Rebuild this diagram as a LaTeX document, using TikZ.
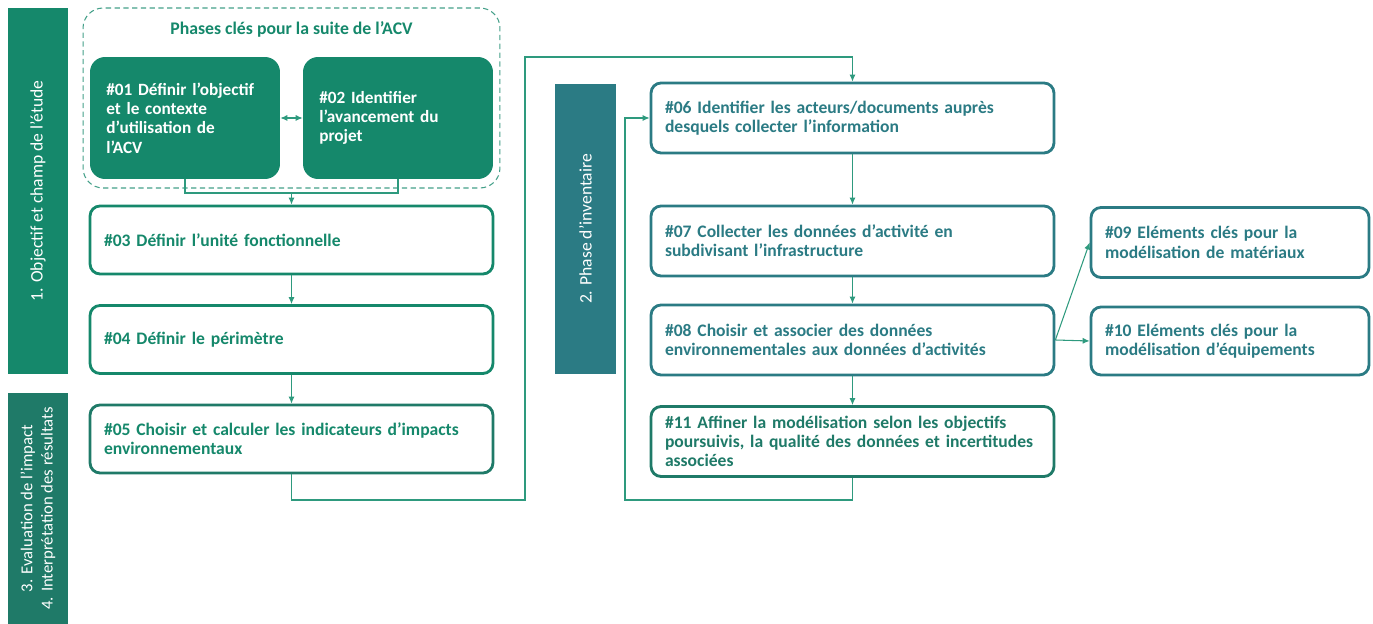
\documentclass[tikz,border=0pt]{standalone}
\usepackage{fontspec}
\setmainfont{Carlito}
\usetikzlibrary{arrows.meta}
\definecolor{vertacv}{HTML}{15886B}
\definecolor{vertfonce}{HTML}{1F7A68}
\definecolor{bleuacv}{HTML}{2B7B84}
\definecolor{lienvert}{HTML}{2E9A7E}
\begin{document}
\begin{tikzpicture}[x=0.02cm,y=-0.02cm,
  phasebar/.style={rotate=90, text=white, inner sep=0pt, align=center,
    minimum height=1.2cm, font=\fontsize{10}{11.5}\selectfont},
  clebox/.style={fill=vertacv, rounded corners=0.3cm, text=white, align=left,
    inner xsep=0.325cm, text width=3.15cm, minimum height=2.44cm,
    font=\bfseries\fontsize{9.8}{11}\selectfont},
  etapebox/.style={draw=vertacv, line width=1.6pt, rounded corners=0.2cm, fill=white,
    text=vertacv, align=left, inner xsep=0.28cm, text width=7.5cm,
    minimum height=1.36cm, font=\bfseries\fontsize{10}{11}\selectfont},
  inventbox/.style={etapebox, draw=bleuacv, text=bleuacv, minimum height=1.4cm},
  lien/.style={draw=lienvert, line width=0.6pt},
  >={Latex[length=4pt,width=3.5pt]}
]
\useasboundingbox (0,0) rectangle (1373,624);

% bandeaux des phases
\node[phasebar, fill=vertacv, minimum width=7.32cm] (phase1) at (38,191) {1. Objectif et champ de l'étude};
\node[phasebar, fill=vertfonce, minimum width=4.62cm, font=\fontsize{9.5}{11.5}\selectfont] (phase34) at (38,508.5) {3. Evaluation de l'impact\\4. Interprétation des résultats};
\node[phasebar, fill=bleuacv, minimum width=5.8cm, minimum height=1.22cm] (phase2) at (585.5,229) {2. Phase d'inventaire};

% phases clés
\node[draw=vertacv!80, line width=0.6pt, dash pattern=on 3pt off 2pt, rounded corners=0.4cm,
  minimum width=8.34cm, minimum height=3.6cm] (cles) at (291.5,98) {};
\node[text=vertacv, font=\bfseries\fontsize{10.1}{12}\selectfont] (titrecles) at (291.5,29) {Phases clés pour la suite de l’ACV};
\node[clebox] (n01) at (185,118) {\#01 Définir l’objectif\\et le contexte\\d’utilisation de\\l’ACV};
\node[clebox] (n02) at (398,118) {\#02 Identifier\\l’avancement du\\projet};

% étapes 03 à 05
\node[etapebox] (n03) at (291.5,240) {\#03 Définir l’unité fonctionnelle};
\node[etapebox] (n04) at (291.5,339.5) {\#04 Définir le périmètre};
\node[etapebox, draw=vertfonce] (n05) at (291.5,439) {\#05 Choisir et calculer les indicateurs d’impacts\\environnementaux};

% inventaire
\node[inventbox] (n06) at (852.5,118) {\#06 Identifier les acteurs/documents auprès\\desquels collecter l’information};
\node[inventbox] (n07) at (852.5,241) {\#07 Collecter les données d’activité en\\subdivisant l’infrastructure};
\node[inventbox] (n08) at (852.5,340) {\#08 Choisir et associer des données\\environnementales aux données d’activités};
\node[inventbox, draw=vertfonce, text=vertfonce] (n11) at (852.5,441.5) {\#11 Affiner la modélisation selon les objectifs\\poursuivis, la qualité des données et incertitudes\\associées};
\node[inventbox, text width=5cm] (n09) at (1230,242.5) {\#09 Eléments clés pour la\\modélisation de matériaux};
\node[inventbox, text width=5cm, minimum height=1.36cm] (n10) at (1230,341) {\#10 Eléments clés pour la\\modélisation d’équipements};

\coordinate (j12) at (291.5,193);
\coordinate (c1) at (525,500);
\coordinate (c2) at (525,57);
\coordinate (c3) at (625,500);

\draw[lien,<->] (n01) -- (n02);
\draw[lien] (n01.south) |- (j12) -| (n02.south);
\draw[lien,->] (j12) -- (n03);
\draw[lien,->] (n03) -- (n04);
\draw[lien,->] (n04) -- (n05);
\draw[lien,->] (n05.south) |- (c1) -- (c2) -| (n06.north);
\draw[lien,->] (n06) -- (n07);
\draw[lien,->] (n07) -- (n08);
\draw[lien,->] (n08) -- (n11);
\draw[lien,->] (n11.south) |- (c3) |- (n06.west);
\draw[lien,->] (n08.east) -- (n09.west);
\draw[lien,->] (n08.east) -- (n10.west);

\end{tikzpicture}
\end{document}
